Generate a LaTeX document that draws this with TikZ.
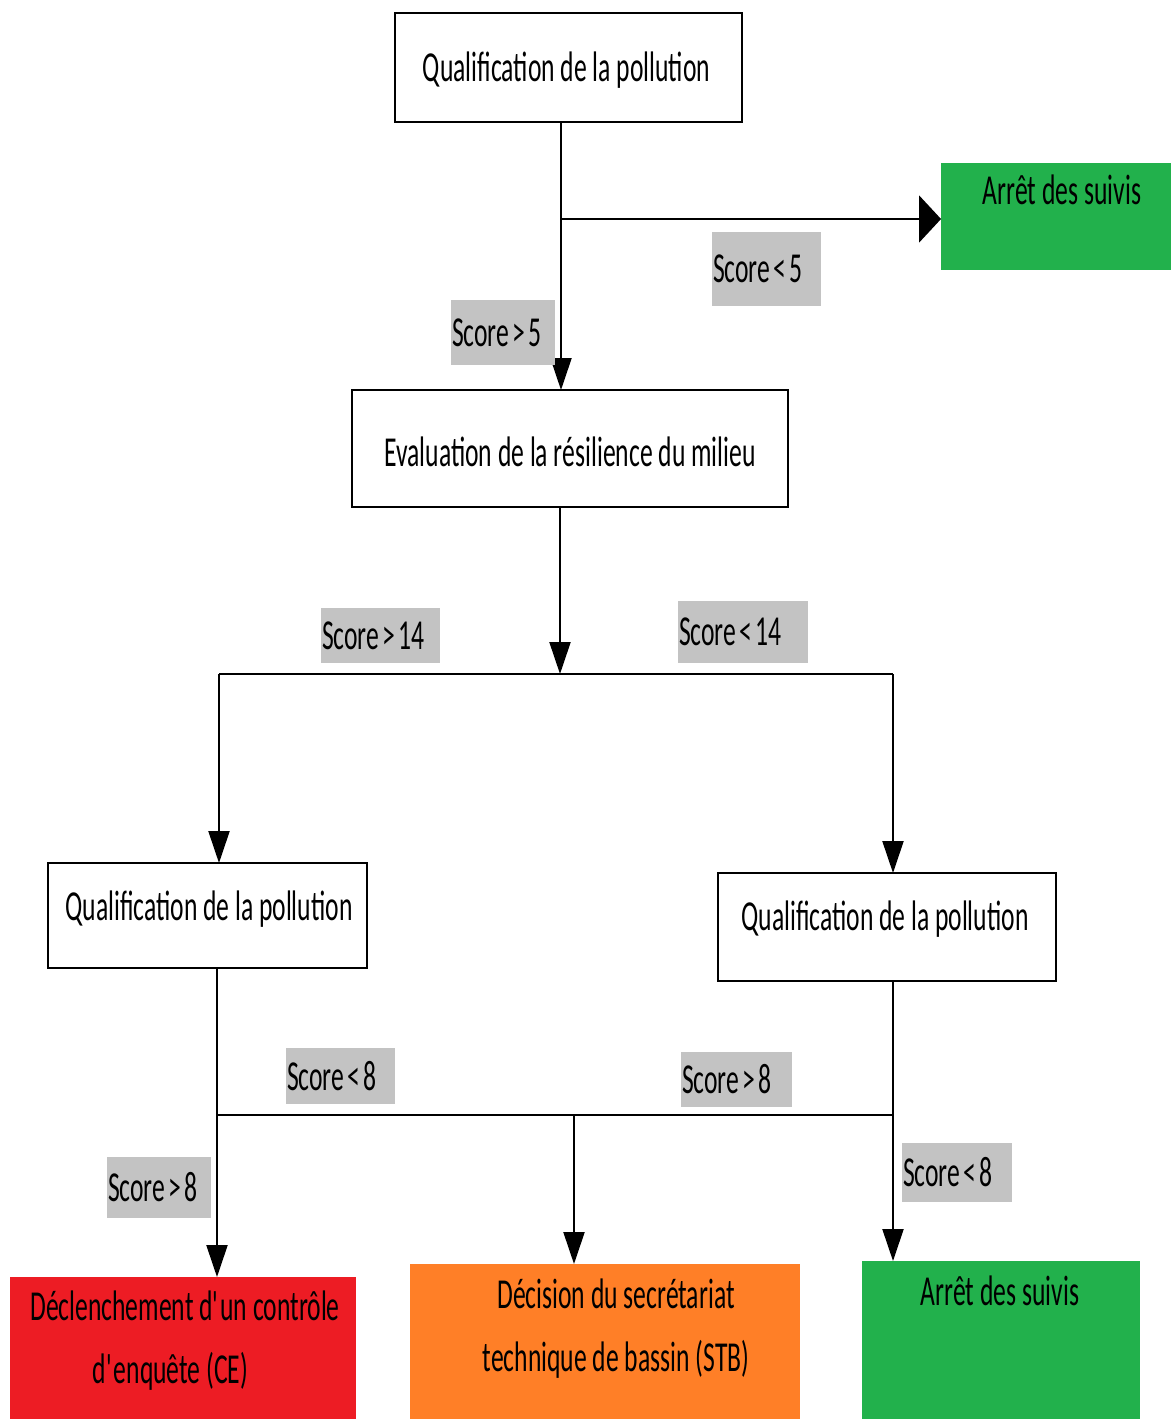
\documentclass[tikz,border=0pt]{standalone}
\usepackage{fontspec}
\setmainfont{Carlito}[FakeStretch=0.6]
\newfontfamily\scorefont{Carlito}[FakeStretch=0.6, WordSpace=0.6]
\usetikzlibrary{arrows.meta}
\definecolor{stopgreen}{HTML}{22B14C}
\definecolor{alertred}{HTML}{ED1C24}
\definecolor{stborange}{HTML}{FF7F27}
\definecolor{scoregray}{HTML}{C3C3C3}
\newcommand{\scoretext}[2]{\makebox[#1][l]{#2}}
\newcommand{\apos}{\textquotesingle\kern-0.04cm}

\begin{document}
\begin{tikzpicture}[x=0.02cm, y=-0.02cm,
    every node/.style={font=\fontsize{24.3}{35.3}\selectfont, inner sep=0pt, outer sep=0pt},
    whitebox/.style={draw, line width=1.5pt, fill=white},
    txt/.style={anchor=base, align=center},
    score/.style={fill=scoregray, inner xsep=0.02cm, font=\scorefont\fontsize{24.3}{35.3}\selectfont},
    conn/.style={line width=1.2pt},
    arr/.style={conn, -{Triangle[length=0.64cm, width=0.42cm]}},
    arrh/.style={conn, -{Triangle[length=0.44cm, width=0.94cm]}}]
  \useasboundingbox (0,0) rectangle (1171,1419);

  % boxes
  \node[whitebox, minimum width=6.94cm, minimum height=2.18cm] (qual) at (568.5,67.5) {};
  \node[fill=stopgreen, minimum width=4.6cm, minimum height=2.14cm] (stop1) at (1056,216.5) {};
  \node[whitebox, minimum width=8.72cm, minimum height=2.34cm] (eval) at (570,448.5) {};
  \node[whitebox, minimum width=6.38cm, minimum height=2.1cm] (qualg) at (207.5,915.5) {};
  \node[whitebox, minimum width=6.76cm, minimum height=2.16cm] (quald) at (887,927) {};
  \node[fill=alertred, minimum width=6.92cm, minimum height=2.84cm] (ce) at (183,1348) {};
  \node[fill=stborange, minimum width=7.8cm, minimum height=3.1cm] (stb) at (605,1341.5) {};
  \node[fill=stopgreen, minimum width=5.56cm, minimum height=3.16cm] (stop2) at (1001,1340) {};

  % texts (base = last line)
  \node[txt] (t-qual) at (566.5,82) {Qualification de la pollution};
  \node[txt] (t-stop1) at (1062,205) {Arrêt des suivis};
  \node[txt] (t-eval) at (570,466) {Evaluation de la résilience du milieu};
  \node[txt] (t-qualg) at (209,920) {Qualification de la pollution};
  \node[txt] (t-quald) at (885,930) {Qualification de la pollution};
  \node[txt] (t-ce) at (185,1383) {Déclenchement d\apos un contrôle\\d\apos enquête (CE)\hspace*{0.58cm}};
  \node[txt] (t-stb) at (616,1371) {Décision du secrétariat\\technique de bassin (STB)};
  \node[txt] (t-stop2) at (1000,1305) {Arrêt des suivis};

  % junctions
  \coordinate (j1) at (561,219);
  \coordinate (j2) at (560,674);
  \coordinate (jl) at (219,674);
  \coordinate (jr) at (893,674);
  \coordinate (kl) at (217,1115);
  \coordinate (km) at (574,1115);
  \coordinate (kr) at (893,1115);

  % connectors
  \draw[conn] (qual.south -| j1) -- (j1);
  \draw[arr] (j1) -- (eval.north -| j1);
  \draw[arrh] (j1) -- (stop1.west |- j1);
  \draw[arr] (eval.south -| j2) -- (j2);
  \draw[conn] (jl) -- (jr);
  \draw[arr] (jl) -- (qualg.north -| jl);
  \draw[arr] (jr) -- (quald.north -| jr);
  \draw[arr] (qualg.south -| kl) -- (ce.north -| kl);
  \draw[arr] (quald.south -| kr) -- (stop2.north -| kr);
  \draw[conn] (kl) -- (kr);
  \draw[arr] (km) -- (stb.north -| km);

  % scores
  \node[score, minimum height=1.48cm] (sc5lt) at (766.5,269) {\scoretext{2.14cm}{Score < 5}};
  \node[score, minimum height=1.3cm] (sc5gt) at (503,332.5) {\scoretext{2.04cm}{Score > 5}};
  \node[score, minimum height=1.1cm] (sc14gt) at (380.5,635.5) {\scoretext{2.34cm}{Score > 14}};
  \node[score, minimum height=1.24cm] (sc14lt) at (743,632) {\scoretext{2.56cm}{Score < 14}};
  \node[score, minimum height=1.12cm] (sc8lt) at (340.5,1076) {\scoretext{2.14cm}{Score < 8}};
  \node[score, minimum height=1.1cm] (sc8gt) at (736.5,1079.5) {\scoretext{2.18cm}{Score > 8}};
  \node[score, minimum height=1.22cm] (sc8gtb) at (159,1187.5) {\scoretext{2.04cm}{Score > 8}};
  \node[score, minimum height=1.18cm] (sc8ltb) at (957,1172.5) {\scoretext{2.16cm}{Score < 8}};
\end{tikzpicture}
\end{document}
